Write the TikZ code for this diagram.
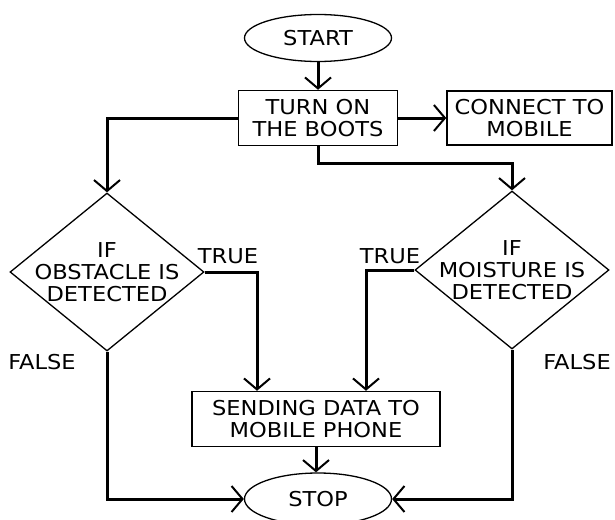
\documentclass[tikz,border=0pt]{standalone}
\usepackage{fontspec}
\setmainfont{DejaVu Sans}[FakeStretch=1.1]
\usetikzlibrary{shapes.geometric, arrows.meta}
\tikzstyle{term} = [ellipse, draw=black, line width=1.3pt, minimum width=147pt, minimum height=47pt, inner sep=0pt]
\tikzstyle{process} = [rectangle, draw=black, line width=1.5pt, minimum height=55pt, align=center, inner sep=0pt]
\tikzstyle{decision} = [diamond, draw=black, line width=1.3pt, minimum width=194pt, minimum height=158pt, inner sep=-30pt, align=center]
\tikzstyle{arrow} = [line width=3pt, -{Straight Barb[length=11pt,width=26pt,line width=2pt]}]
\tikzstyle{lbl} = [inner sep=0pt]

\begin{document}
\begin{tikzpicture}[x=1pt,y=-1pt,every node/.style={font=\fontsize{20.5}{22}\selectfont}]
\useasboundingbox (0,0) rectangle (615,519);

% nodes
\node[term] (start) at (318,38) {START};
\node[process, minimum width=159pt] (turn) at (318,118) {TURN ON\\THE BOOTS};
\node[process, minimum width=165pt, minimum height=54pt] (conn) at (529.5,118) {CONNECT TO\\MOBILE};
\node[decision] (obst) at (107,272) {IF\\OBSTACLE IS\\DETECTED};
\node[decision] (moist) at (512,270) {IF\\MOISTURE IS\\DETECTED};
\node[process, minimum width=248pt] (send) at (316,419) {SENDING DATA TO\\MOBILE PHONE};
\node[term, minimum height=52pt] (stop) at (318,499) {STOP};

% labels
\node[lbl] (true1) at (228,256) {TRUE};
\node[lbl] (true2) at (390,256) {TRUE};
\node[lbl] (false1) at (42,362) {FALSE};
\node[lbl] (false2) at (577,362) {FALSE};

% connectors
\draw[arrow] (start.south) -- (turn.north);
\draw[arrow] (turn.east) -- (conn.west);
\draw[arrow] (turn.west) -| (obst.north);
\draw[arrow] (turn.south) -- ++(0,17) -| (moist.north);
\draw[arrow] (obst.east) -| ([xshift=-59pt]send.north);
\draw[arrow] (moist.west) -| ([xshift=50pt]send.north);
\draw[arrow] (obst.south) |- (stop.west);
\draw[arrow] (moist.south) |- (stop.east);
\draw[arrow] (send.south) -- (send.south |- stop.north);
\end{tikzpicture}
\end{document}
